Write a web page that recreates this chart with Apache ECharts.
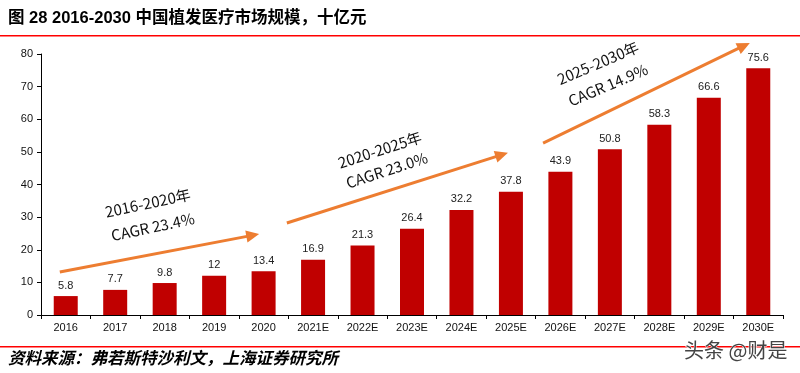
<!DOCTYPE html>
<html><head><meta charset="utf-8">
<script src="https://cdn.jsdelivr.net/npm/echarts@6/dist/echarts.min.js"></script>
<style>html,body{margin:0;padding:0;background:#fff;}#c{width:800px;height:373px;}</style>
</head><body><div id="c"></div>
<script>
var categories = ['2016','2017','2018','2019','2020','2021E','2022E','2023E','2024E','2025E','2026E','2027E','2028E','2029E','2030E'];
var values = [5.8,7.7,9.8,12,13.4,16.9,21.3,26.4,32.2,37.8,43.9,50.8,58.3,66.6,75.6];
var yTicks = {min:0, max:80, interval:10};
var titleText = '图 28 2016-2030 中国植发医疗市场规模，十亿元';
var sourceText = '资料来源：弗若斯特沙利文，上海证券研究所';
var watermark = '头条 @财是';
// CAGR annotations in data space: [categoryIndex, value]
var arrows = [
  [[-0.12, 13.2], [3.91, 24.8]],
  [[4.47, 28.2], [8.94, 49.7]],
  [[9.65, 52.7], [13.83, 83.4]]
];
var cagrLabels = [
  {lines:['2016-2020年','CAGR 23.4%'], pos:[[1.66,34.3],[1.76,27.0]], rot:12},
  {lines:['2020-2025年','CAGR 23.0%'], pos:[[6.35,50.6],[6.49,44.4]], rot:18},
  {lines:['2025-2030年','CAGR 14.9%'], pos:[[10.76,77.2],[10.96,70.5]], rot:23}
];

var chart = echarts.init(document.getElementById('c'));
var font = '"Liberation Sans", Arial, sans-serif';
chart.setOption({
  animation:false,
  grid:{left:41, right:17, top:54, bottom:58},
  xAxis:{type:'category', data:categories,
    axisLine:{lineStyle:{color:'#000', width:1}},
    axisTick:{show:true, length:4, lineStyle:{color:'#000'}},
    axisLabel:{color:'#111', fontSize:11, fontFamily:font, margin:7, interval:0}},
  yAxis:{type:'value', min:yTicks.min, max:yTicks.max, interval:yTicks.interval,
    axisLine:{show:true, lineStyle:{color:'#000', width:1}},
    axisTick:{show:true, length:4, lineStyle:{color:'#000'}},
    splitLine:{show:false},
    axisLabel:{color:'#111', fontSize:11, fontFamily:font, margin:8}},
  series:[{type:'bar', data:values, barWidth:24,
    itemStyle:{color:'#C00000'},
    label:{show:true, position:'top', distance:5, color:'#222', fontSize:11, fontFamily:font}}]
});

// fractional category positions: interpolate between category centres
function toPx(pt){
  var a = chart.convertToPixel({gridIndex:0}, [0, pt[1]]);
  var b = chart.convertToPixel({gridIndex:0}, [1, pt[1]]);
  return [a[0] + pt[0]*(b[0]-a[0]), a[1]];
}

var g = [];
g.push({type:'text', left:8, top:10, style:{text:titleText, fontSize:16.5, fontWeight:'bold', fill:'#000', fontFamily:'"Liberation Sans","Noto Sans CJK SC",sans-serif'}});
g.push({type:'rect', shape:{x:0,y:35,width:800,height:1.5}, style:{fill:'#FF0000'}});
g.push({type:'rect', shape:{x:0,y:346,width:800,height:1.5}, style:{fill:'#FF0000'}});
g.push({type:'text', left:8, top:349, style:{text:sourceText, fontSize:16.5, fontStyle:'italic', fontWeight:'bold', fill:'#000', fontFamily:'"Noto Sans CJK SC",sans-serif'}});
g.push({type:'text', right:12, top:340, style:{text:watermark, fontSize:20, fill:'#444', stroke:'#fff', lineWidth:1, fontFamily:'"Noto Sans CJK SC",sans-serif'}});

arrows.forEach(function(a){
  var p1 = toPx(a[0]);
  var p2 = toPx(a[1]);
  var dx = p2[0]-p1[0], dy = p2[1]-p1[1];
  var len = Math.sqrt(dx*dx+dy*dy), ux = dx/len, uy = dy/len;
  var hl = 13, hw = 6;
  var bx = p2[0]-ux*hl, by = p2[1]-uy*hl;
  g.push({type:'line', shape:{x1:p1[0],y1:p1[1],x2:bx+ux*2,y2:by+uy*2}, style:{stroke:'#ED7D31', lineWidth:3}});
  g.push({type:'polygon', shape:{points:[[p2[0],p2[1]],[bx-uy*hw,by+ux*hw],[bx+uy*hw,by-ux*hw]]}, style:{fill:'#ED7D31'}});
});
cagrLabels.forEach(function(c){
  c.lines.forEach(function(t,i){
    var p = toPx(c.pos[i]);
    g.push({type:'text', x:p[0], y:p[1], rotation:c.rot*Math.PI/180,
      style:{text:t, fontSize:15, fill:'#111', align:'center', verticalAlign:'middle', fontFamily:'"Noto Sans CJK SC","Noto Sans",sans-serif'}});
  });
});
chart.setOption({graphic:g});
</script></body></html>
